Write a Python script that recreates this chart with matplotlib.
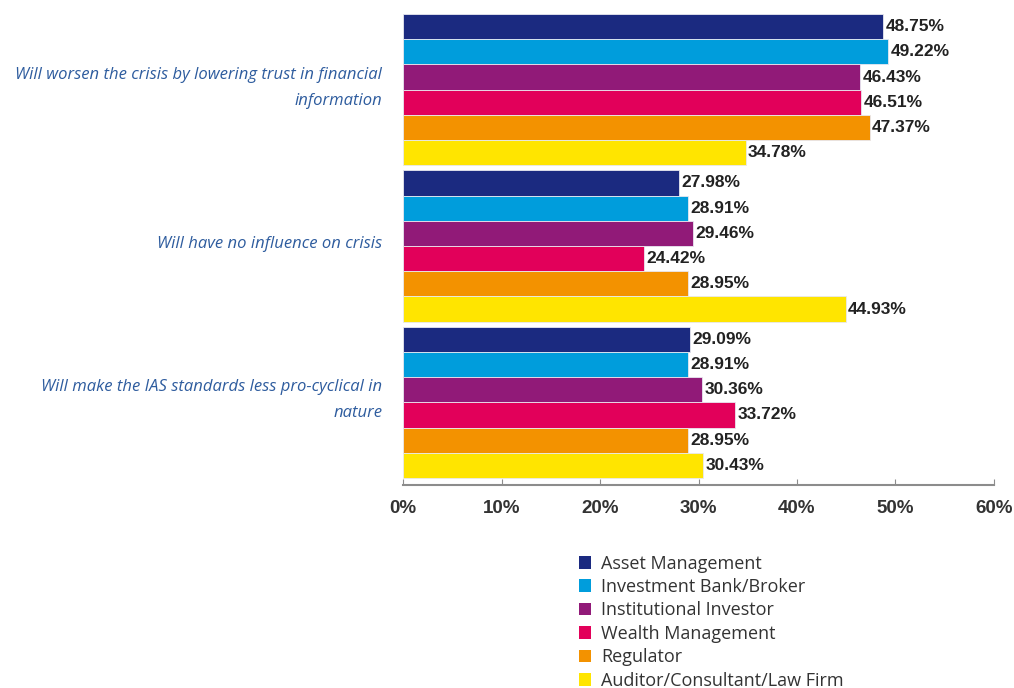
import numpy as np
import matplotlib.pyplot as plt
from matplotlib.patches import Patch

categories = [
    "Will worsen the crisis by lowering trust in financial\ninformation",
    "Will have no influence on crisis",
    "Will make the IAS standards less pro-cyclical in\nnature",
]
series = [
    "Asset Management",
    "Investment Bank/Broker",
    "Institutional Investor",
    "Wealth Management",
    "Regulator",
    "Auditor/Consultant/Law Firm",
]
values = [
    [48.75, 27.98, 29.09],
    [49.22, 28.91, 28.91],
    [46.43, 29.46, 30.36],
    [46.51, 24.42, 33.72],
    [47.37, 28.95, 28.95],
    [34.78, 44.93, 30.43],
]
colors = ["#1b2a80", "#009ddc", "#911a78", "#e2005a", "#f39200", "#ffe500"]
ticks = [0, 10, 20, 30, 40, 50, 60]

fig = plt.figure(figsize=(10.14, 6.88), dpi=100)
ax = fig.add_axes([403 / 1014, 1 - 485 / 688, 591 / 1014, 471 / 688])

gap = 0.2
n = len(series)
for s in range(n):
    for g in range(len(categories)):
        y = g * (n + gap) + s + 0.5
        v = values[s][g]
        ax.barh(y, v, height=1.0, color=colors[s], edgecolor="#e8e8f0", linewidth=0.6)
        ax.text(v + 0.25, y, f"{v:.2f}%", va="center", ha="left",
                fontsize=12.5, fontweight="bold", family="Liberation Sans", color="#222222")

for g, cat in enumerate(categories):
    yc = g * (n + gap) + n / 2 - 0.08
    ax.text(-2.1, yc, cat, ha="right", va="center", style="italic",
            fontsize=12, family="Open Sans", color="#2e5c9e", linespacing=1.85)

total = len(categories) * n + (len(categories) - 1) * gap
ax.set_ylim(total + 0.28, 0)
ax.set_xlim(0, 60)
ax.set_xticks(ticks)
ax.set_xticklabels([f"{t}%" for t in ticks], fontsize=13.5, fontweight="bold",
                   family="Liberation Sans", color="#333333")
ax.set_yticks([])
for side in ["top", "right", "left"]:
    ax.spines[side].set_visible(False)
ax.spines["bottom"].set_color("#8c8c8c")
ax.spines["bottom"].set_linewidth(1.5)
ax.tick_params(axis="x", direction="in", length=4, color="#8c8c8c", pad=11)

handles = [Patch(facecolor=c, edgecolor="none") for c in colors]
fig.legend(handles, series, loc="upper left", bbox_to_anchor=(566 / 1014, 1 - 542 / 688),
           frameon=False, handlelength=0.7, handleheight=0.7, handletextpad=0.55,
           labelspacing=0.3, borderaxespad=0.3,
           prop={"family": "Open Sans", "size": 13}, labelcolor="#333333")

fig.savefig("out.png", dpi=100, facecolor="white")
